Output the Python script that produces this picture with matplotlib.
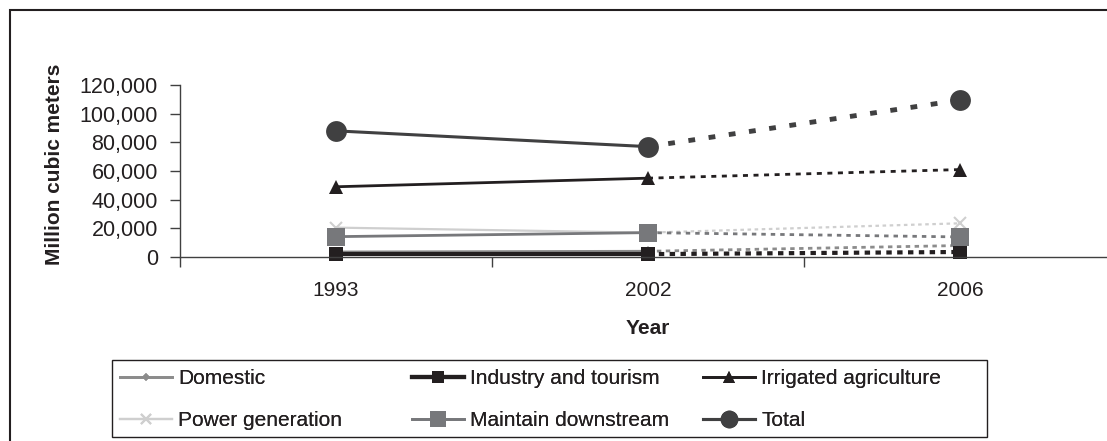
import numpy as np
import matplotlib
matplotlib.use("Agg")
import matplotlib.pyplot as plt
from matplotlib.patches import Rectangle

plt.rcParams['font.family'] = ['Liberation Sans', 'DejaVu Sans']

years = ['1993', '2002', '2006']
domestic = [3500, 4000, 8000]
industry = [2000, 2000, 3500]
irrigated = [49000, 55000, 61000]
power = [20500, 17000, 23500]
downstream = [14200, 17000, 14000]
total = [88000, 77000, 109500]

yticks = [0, 20000, 40000, 60000, 80000, 100000, 120000]
ytick_labels = ['0', '20,000', '40,000', '60,000', '80,000', '100,000', '120,000']

W, H = 1107, 441
def fx(px):
    return px / W
def fy(py):
    return 1 - py / H

fig = plt.figure(figsize=(W / 100, H / 100), dpi=100)
ax = fig.add_axes([fx(180), fy(257), 936 / W, 172 / H])

txt = '#231f20'
x = np.arange(len(years))

# name, values, color, marker, size, line width, dashes for projection
series = [
    ('Domestic', domestic, '#8c8c8c', 'D', 5, 2.0, (1.6, 1.6)),
    ('Industry and tourism', industry, '#231f20', 's', 9.5, 3.0, (1.3, 1.3)),
    ('Irrigated agriculture', irrigated, '#231f20', '^', 10, 2.0, (1.8, 2.0)),
    ('Power generation', power, '#cfcfcf', 'x', 9, 1.6, (1.6, 1.6)),
    ('Maintain downstream', downstream, '#77787b', 's', 13, 2.0, (1.6, 1.8)),
    ('Total', total, '#404041', 'o', 15, 2.2, (1.4, 2.8)),
]

handles = []
for name, vals, col, mk, ms, lw, dash in series:
    mew = 1.5 if mk == 'x' else 0
    plw = 3.5 if name == 'Total' else lw
    ax.plot(x[1:], vals[1:], color=col, lw=plw, dashes=dash,
            solid_capstyle='butt', dash_capstyle='butt')
    h, = ax.plot(x[:2], vals[:2], color=col, lw=lw, marker=mk, ms=ms,
                 mfc=col, mec=col, mew=mew, label=name)
    ax.plot(x[2:], vals[2:], ls='none', marker=mk, ms=ms,
            mfc=col, mec=col, mew=mew)
    handles.append(h)

ax.set_xlim(-0.5, 2.5)
ax.set_ylim(0, 120000)
ax.set_yticks(yticks)
ax.set_yticklabels(ytick_labels)
ax.set_xticks(x)
ax.set_xticklabels(years)
ax.set_xticks([-0.5, 0.5, 1.5, 2.5], minor=True)
ax.tick_params(axis='x', which='major', length=0, pad=17, labelsize=15, labelcolor=txt)
ax.tick_params(axis='x', which='minor', length=7, width=1, color='#404040', direction='out')
ax.tick_params(axis='y', length=7, width=1, color='#404040', pad=9, labelsize=15.5, labelcolor=txt)

for s in ['top', 'right']:
    ax.spines[s].set_visible(False)
for s in ['left', 'bottom']:
    ax.spines[s].set_color('#404040')
    ax.spines[s].set_linewidth(1)
ax.spines['left'].set_bounds(0, 120000)
for ln in ax.lines:
    ln.set_clip_on(False)

fig.text(fx(55), fy(164), 'Million cubic meters', rotation=90, ha='center', va='center',
         fontsize=15, fontweight='bold', color=txt)
fig.text(fx(648), fy(328), 'Year', ha='center', va='center',
         fontsize=15, fontweight='bold', color=txt)

# legend: three columns inside one frame
cols = [(120, [0, 3]), (412, [1, 4]), (703, [2, 5])]
for xs, idx in cols:
    lg = fig.legend([handles[i] for i in idx], [series[i][0] for i in idx],
                    loc='upper left', bbox_to_anchor=(fx(xs), fy(369)),
                    frameon=False, fontsize=15, handlelength=2.5, handletextpad=0.3,
                    borderpad=0, borderaxespad=0, labelspacing=1.1,
                    labelcolor=txt, markerscale=0.85)
    fig.add_artist(lg)

fig.add_artist(Rectangle((fx(112), fy(437)), fx(987) - fx(112), fy(360) - fy(437),
                         transform=fig.transFigure, fill=False, ec=txt, lw=1))
fig.add_artist(Rectangle((fx(10), fy(460)), fx(1130) - fx(10), fy(10) - fy(460),
                         transform=fig.transFigure, fill=False, ec=txt, lw=1.5))

fig.savefig('out.png', dpi=100)
